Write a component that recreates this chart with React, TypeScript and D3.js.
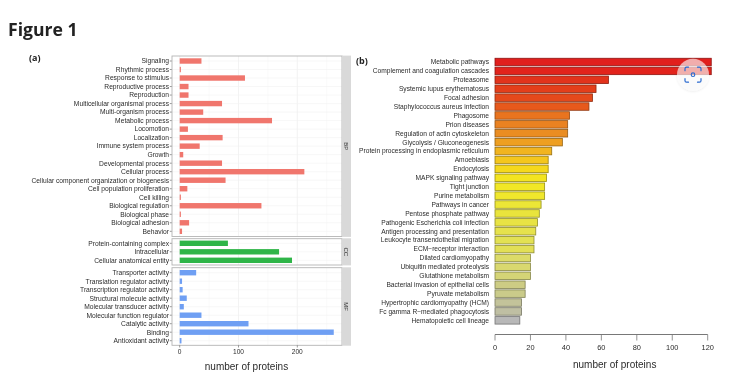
import React from "react";
import * as d3 from "d3";

const bpLabels = ["Signaling","Rhythmic process","Response to stimulus","Reproductive process","Reproduction","Multicellular organismal process","Multi-organism process","Metabolic process","Locomotion","Localization","Immune system process","Growth","Developmental process","Cellular process","Cellular component organization or biogenesis","Cell population proliferation","Cell killing","Biological regulation","Biological phase","Biological adhesion","Behavior"];
const bpValues = [37,2,111,15,15,72,40,157,14,73,34,6,72,212,78,13,2,139,2,16,4];
const ccLabels = ["Protein-containing complex","Intracellular","Cellular anatomical entity"];
const ccValues = [82,169,191];
const mfLabels = ["Transporter activity","Translation regulator activity","Transcription regulator activity","Structural molecule activity","Molecular transducer activity","Molecular function regulator","Catalytic activity","Binding","Antioxidant activity"];
const mfValues = [28,4,5,12,7,37,117,262,3];
const leftTicks = [0,100,200];
const leftMinor = [50,150,250];

const pathways = ["Metabolic pathways","Complement and coagulation cascades","Proteasome","Systemic lupus erythematosus","Focal adhesion","Staphylococcus aureus infection","Phagosome","Prion diseases","Regulation of actin cytoskeleton","Glycolysis / Gluconeogenesis","Protein processing in endoplasmic reticulum","Amoebiasis","Endocytosis","MAPK signaling pathway","Tight junction","Purine metabolism","Pathways in cancer","Pentose phosphate pathway","Pathogenic Escherichia coli infection","Antigen processing and presentation","Leukocyte transendothelial migration","ECM\u2212receptor interaction","Dilated cardiomyopathy","Ubiquitin mediated proteolysis","Glutathione metabolism","Bacterial invasion of epithelial cells","Pyruvate metabolism","Hypertrophic cardiomyopathy (HCM)","Fc gamma R\u2212mediated phagocytosis","Hematopoietic cell lineage"];
const pathwayValues = [122,122,64,57,55,53,42,41,41,38,32,30,30,29,28,28,26,25,24,23,22,22,20,20,20,17,17,15,15,14];
const pathwayColors = ["#e11f1d","#e2231c","#e2331c","#e43e1a","#e5491b","#e7591c","#e9741f","#ea8221","#ea8d22","#ee9f21","#f1b41f","#f4c61d","#f5d81c","#f3e420","#f1e726","#f0e72c","#ece636","#e9e43c","#e8e344","#e6e24c","#e3e153","#e2df56","#dcdb68","#d9d86f","#d5d476","#cdcc84","#cacb8a","#c3c39a","#bfbfa3","#b8b8b8"];
const rightTicks = [0,20,40,60,80,100,120];

const SANS = "'Liberation Sans', Arial, sans-serif";
const xLeft = d3.scaleLinear().domain([0, 200]).range([179.7, 297.3]);
const xRight = d3.scaleLinear().domain([0, 120]).range([495, 707.7]);

type Panel = { strip: string; labels: string[]; values: number[]; color: string; top: number; bottom: number; first: number; last: number };
const panels: Panel[] = [
  { strip: "BP", labels: bpLabels, values: bpValues, color: "#f0766d", top: 56, bottom: 236.5, first: 61, last: 231.3 },
  { strip: "CC", labels: ccLabels, values: ccValues, color: "#2fb548", top: 238.7, bottom: 265, first: 243.3, last: 260.3 },
  { strip: "MF", labels: mfLabels, values: mfValues, color: "#6f9ff3", top: 267.7, bottom: 345.3, first: 272.7, last: 340.7 },
];

function FacetPanel({ p }: { p: Panel }) {
  const y = d3.scalePoint<string>().domain(p.labels).range([p.first, p.last]);
  const h = 5.4;
  return (
    <g>
      <rect x={172} y={p.top} width={170} height={p.bottom - p.top} fill="#fff" />
      {leftMinor.map(t => <line key={t} x1={xLeft(t)} x2={xLeft(t)} y1={p.top} y2={p.bottom} stroke="#f6f6f6" strokeWidth={0.6} />)}
      {leftTicks.map(t => <line key={t} x1={xLeft(t)} x2={xLeft(t)} y1={p.top} y2={p.bottom} stroke="#eeeeee" strokeWidth={0.7} />)}
      {p.labels.map(l => <line key={l} x1={172} x2={342} y1={y(l)!} y2={y(l)!} stroke="#f1f1f1" strokeWidth={0.6} />)}
      {p.labels.map((l, i) => (
        <g key={l}>
          <rect x={xLeft(0)} y={y(l)! - h / 2} width={xLeft(p.values[i]) - xLeft(0)} height={h} fill={p.color} />
          <line x1={169.8} x2={172} y1={y(l)!} y2={y(l)!} stroke="#555" strokeWidth={0.6} />
          <text x={169} y={y(l)!} dy="0.35em" textAnchor="end" fontSize={6.7} fill="#2b2b2b" fontFamily={SANS}>{l}</text>
        </g>
      ))}
      <rect x={172} y={p.top} width={170} height={p.bottom - p.top} fill="none" stroke="#b4b4b4" strokeWidth={0.9} />
      <rect x={342} y={p.top - 0.4} width={9} height={p.bottom - p.top + 0.8} fill="#d9d9d9" />
      <text transform={`translate(346.5,${(p.top + p.bottom) / 2}) rotate(90)`} textAnchor="middle" dy="0.35em" fontSize={6} fill="#333" fontFamily={SANS}>{p.strip}</text>
    </g>
  );
}

export default function App() {
  const yRight = d3.scaleBand<string>().domain(pathways).range([57.55, 324.8]).paddingInner(0.16).paddingOuter(0.08);
  const corner = (sx: number, sy: number) => {
    const c = 693, m = 74.7;
    const ox = c + sx * 8, oy = m + sy * 7.5;
    const path = d3.path();
    path.moveTo(ox - sx * 3.5, oy);
    path.lineTo(ox - sx * 1.5, oy);
    path.quadraticCurveTo(ox, oy, ox, oy - sy * 1.5);
    path.lineTo(ox, oy - sy * 3.5);
    return path.toString();
  };
  return (
    <svg width={734} height={383} style={{ position: "absolute", left: 0, top: 0, display: "block", background: "#fff", filter: "blur(0.3px)" }}>
      <defs>
        <filter id="lensShadow" x="-30%" y="-30%" width="160%" height="160%">
          <feDropShadow dx="0" dy="0.6" stdDeviation="1.2" floodColor="#000" floodOpacity="0.14" />
        </filter>
      </defs>
      <text x={8} y={36} fontSize={17.6} fontWeight={700} fill="#222" fontFamily="'Open Sans', sans-serif">Figure 1</text>
      <text x={29} y={61} fontSize={9} fontWeight={700} fill="#222" fontFamily="'Open Sans', sans-serif">(a)</text>
      <text x={356} y={64} fontSize={9} fontWeight={700} fill="#222" fontFamily="'Open Sans', sans-serif">(b)</text>

      {panels.map(p => <FacetPanel key={p.strip} p={p} />)}
      {leftTicks.map(t => (
        <g key={t}>
          <line x1={xLeft(t)} x2={xLeft(t)} y1={345.3} y2={347.5} stroke="#555" strokeWidth={0.6} />
          <text x={xLeft(t)} y={351.5} textAnchor="middle" dy="0.35em" fontSize={6.6} fill="#2b2b2b" fontFamily={SANS}>{t}</text>
        </g>
      ))}
      <text x={246.5} y={369.5} textAnchor="middle" fontSize={10} fill="#2b2b2b" fontFamily={SANS}>number of proteins</text>

      {pathways.map((n, i) => (
        <g key={n}>
          <rect x={xRight(0)} y={yRight(n)!} width={xRight(pathwayValues[i]) - xRight(0)} height={yRight.bandwidth()} fill={pathwayColors[i]}
            stroke={d3.color(pathwayColors[i])!.darker(1.3).formatHex()} strokeWidth={0.8} />
          <text x={489} y={yRight(n)! + yRight.bandwidth() / 2} dy="0.35em" textAnchor="end" fontSize={6.65} fill="#2b2b2b" fontFamily={SANS}>{n}</text>
        </g>
      ))}
      <line x1={xRight(0)} x2={xRight(120)} y1={334.5} y2={334.5} stroke="#555" strokeWidth={0.8} />
      {rightTicks.map(t => (
        <g key={t}>
          <line x1={xRight(t)} x2={xRight(t)} y1={334.5} y2={340.5} stroke="#777" strokeWidth={0.8} />
          <text x={xRight(t)} y={347} textAnchor="middle" dy="0.35em" fontSize={7.4} fill="#2b2b2b" fontFamily={SANS}>{t}</text>
        </g>
      ))}
      <text x={614.7} y={368.2} textAnchor="middle" fontSize={10} fill="#2b2b2b" fontFamily={SANS}>number of proteins</text>

      <circle cx={693} cy={74.7} r={16} fill="#fff" fillOpacity={0.62} filter="url(#lensShadow)" />
      {[[-1,-1],[1,-1],[-1,1],[1,1]].map(([sx, sy]) => (
        <path key={`${sx}${sy}`} d={corner(sx, sy)} fill="none" stroke="#2a6ad0" strokeWidth={1.2} strokeLinecap="round" />
      ))}
      <circle cx={693} cy={74.7} r={1.8} fill="none" stroke="#2a6ad0" strokeWidth={1.1} />
    </svg>
  );
}
